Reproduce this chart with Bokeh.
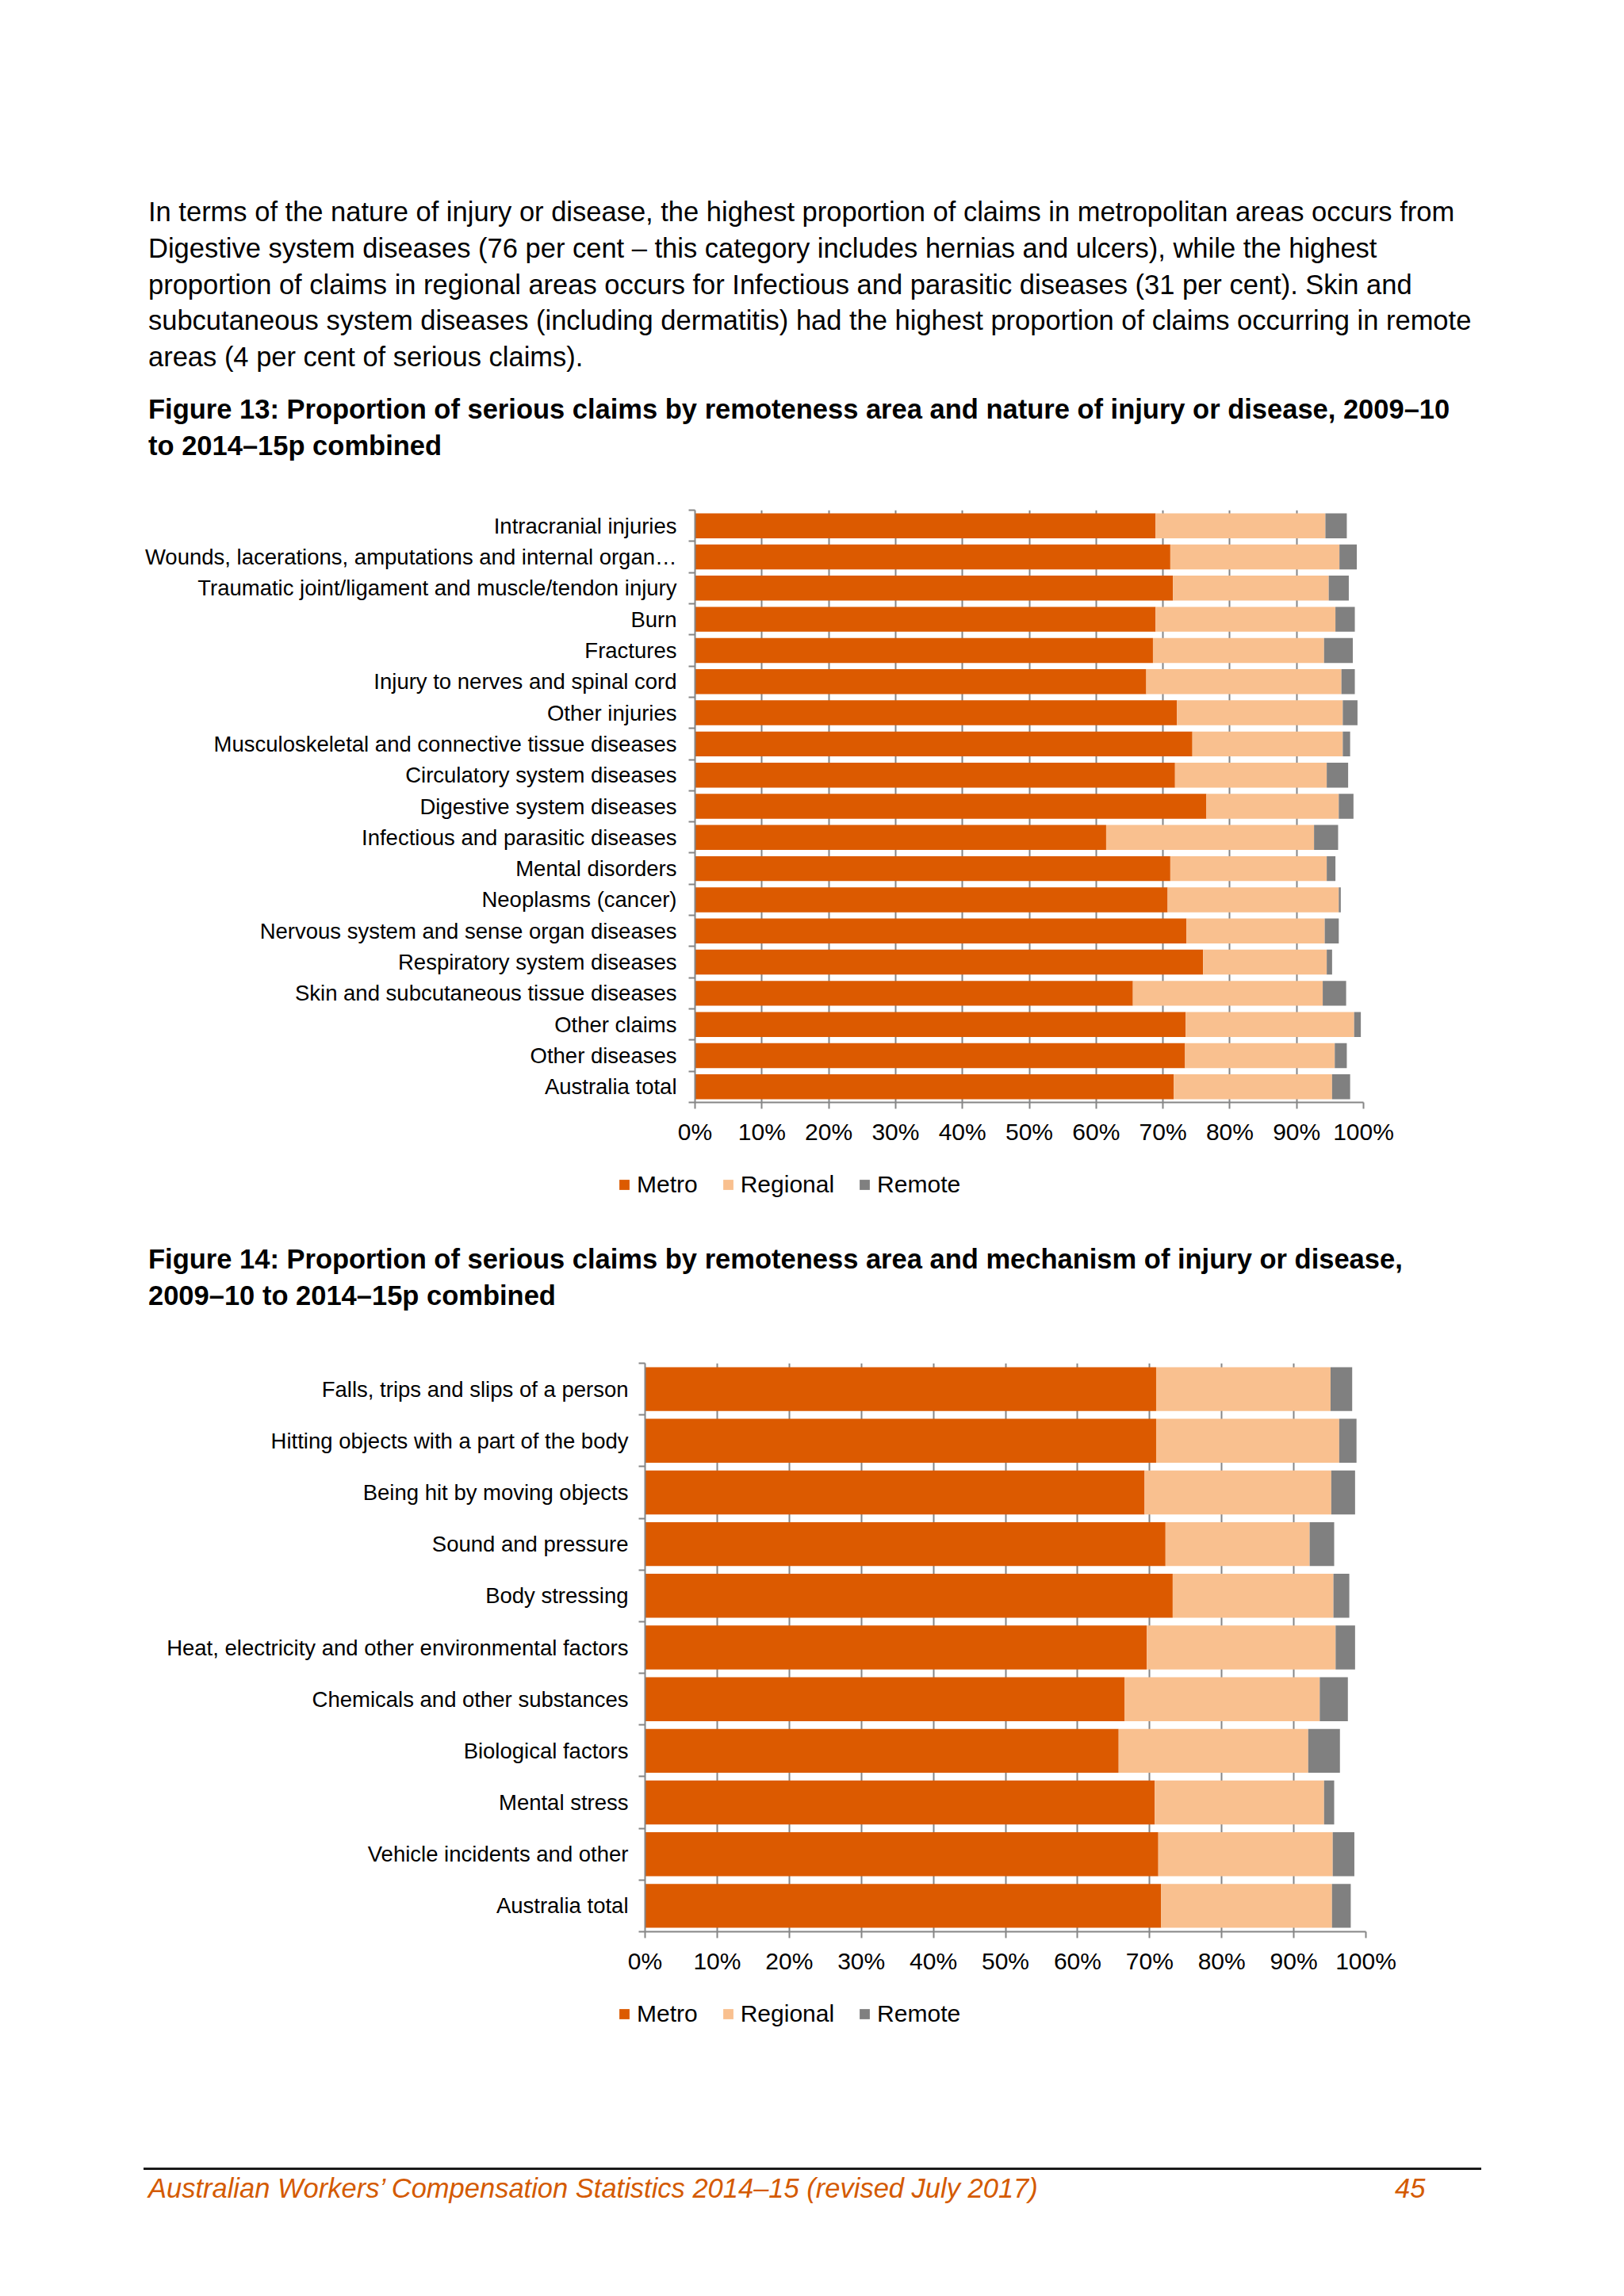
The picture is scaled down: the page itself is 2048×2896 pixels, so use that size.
from bokeh.plotting import figure
from bokeh.models import (Range1d, FixedTicker, Legend, LegendItem, Div,
                          ColumnDataSource, PrintfTickFormatter)
from bokeh.layouts import column
from bokeh.embed import file_html
from bokeh.resources import INLINE

FONT = "Liberation Sans"
METRO_C = "#DC5A00"
REG_C = "#F9C08F"
REM_C = "#808080"
AX_C = "#868686"

# ---------------- data ----------------
series_names = ["Metro", "Regional", "Remote"]
x_ticks = [0, 10, 20, 30, 40, 50, 60, 70, 80, 90, 100]

nature_categories = [
    "Intracranial injuries",
    "Wounds, lacerations, amputations and internal organ…",
    "Traumatic joint/ligament and muscle/tendon injury",
    "Burn",
    "Fractures",
    "Injury to nerves and spinal cord",
    "Other injuries",
    "Musculoskeletal and connective tissue diseases",
    "Circulatory system diseases",
    "Digestive system diseases",
    "Infectious and parasitic diseases",
    "Mental disorders",
    "Neoplasms (cancer)",
    "Nervous system and sense organ diseases",
    "Respiratory system diseases",
    "Skin and subcutaneous tissue diseases",
    "Other claims",
    "Other diseases",
    "Australia total",
]
nature_metro = [68.9, 71.1, 71.5, 68.9, 68.5, 67.5, 72.1, 74.4, 71.8, 76.5,
                61.5, 71.1, 70.7, 73.5, 76.0, 65.5, 73.4, 73.3, 71.6]
nature_regional = [25.4, 25.3, 23.3, 26.9, 25.6, 29.2, 24.8, 22.5, 22.7, 19.8,
                   31.1, 23.4, 25.6, 20.7, 18.5, 28.4, 25.2, 22.4, 23.7]
nature_remote = [3.2, 2.6, 3.0, 2.9, 4.3, 2.0, 2.2, 1.1, 3.2, 2.2,
                 3.6, 1.3, 0.3, 2.1, 0.8, 3.5, 1.0, 1.8, 2.7]

mech_categories = [
    "Falls, trips and slips of a person",
    "Hitting objects with a part of the body",
    "Being hit by moving objects",
    "Sound and pressure",
    "Body stressing",
    "Heat, electricity and other environmental factors",
    "Chemicals and other substances",
    "Biological factors",
    "Mental stress",
    "Vehicle incidents and other",
    "Australia total",
]
mech_metro = [70.9, 70.9, 69.3, 72.2, 73.2, 69.6, 66.5, 65.7, 70.7, 71.2, 71.6]
mech_regional = [24.2, 25.4, 25.9, 20.0, 22.3, 26.2, 27.1, 26.3, 23.5, 24.2, 23.7]
mech_remote = [3.0, 2.4, 3.3, 3.4, 2.2, 2.7, 3.9, 4.4, 1.4, 3.0, 2.6]

paragraph_lines = [
    "In terms of the nature of injury or disease, the highest proportion of claims in metropolitan areas occurs from",
    "Digestive system diseases (76 per cent – this category includes hernias and ulcers), while the highest",
    "proportion of claims in regional areas occurs for Infectious and parasitic diseases (31 per cent). Skin and",
    "subcutaneous system diseases (including dermatitis) had the highest proportion of claims occurring in remote",
    "areas (4 per cent of serious claims).",
]
fig13_title = ["Figure 13: Proportion of serious claims by remoteness area and nature of injury or disease, 2009–10",
               "to 2014–15p combined"]
fig14_title = ["Figure 14: Proportion of serious claims by remoteness area and mechanism of injury or disease,",
               "2009–10 to 2014–15p combined"]
footer_text = "Australian Workers’ Compensation Statistics 2014–15 (revised July 2017)"
page_number = "45"

W = 2040
COLORS = [METRO_C, REG_C, REM_C]


def make_source(metro, regional, remote):
    return ColumnDataSource(dict(y=list(range(len(metro))), Metro=metro,
                                 Regional=regional, Remote=remote))


def make_chart(cats, src, height, left, right, top, bottom, bar_h, y_standoff):
    n = len(cats)
    p = figure(width=W, height=height, x_range=Range1d(0, 100),
               y_range=Range1d(n - 0.5, -0.5), output_backend="svg",
               toolbar_location=None, min_border_left=left, min_border_right=right,
               min_border_top=top, min_border_bottom=bottom, frame_align=False)
    p.hbar_stack(series_names, y="y", height=bar_h, color=COLORS,
                 source=src, line_color=None)
    p.outline_line_color = None
    p.background_fill_color = "white"
    p.border_fill_color = "white"

    # x axis
    xa = p.xaxis[0]
    xa.ticker = FixedTicker(ticks=x_ticks)
    xa.formatter = PrintfTickFormatter(format="%d%%")
    xa.axis_line_color = AX_C
    xa.axis_line_width = 2
    xa.major_tick_line_color = AX_C
    xa.major_tick_line_width = 2
    xa.major_tick_out = 8
    xa.major_tick_in = 0
    xa.minor_tick_line_color = None
    xa.major_label_text_font = FONT
    xa.major_label_text_font_size = "30px"
    xa.major_label_text_color = "black"
    xa.major_label_standoff = 12

    # y axis
    ya = p.yaxis[0]
    ya.ticker = FixedTicker(ticks=list(range(n)), minor_ticks=[i - 0.5 for i in range(n + 1)])
    ya.major_label_overrides = {i: c for i, c in enumerate(cats)}
    ya.axis_line_color = AX_C
    ya.axis_line_width = 2
    ya.major_tick_line_color = None
    ya.major_tick_out = 0
    ya.major_tick_in = 0
    ya.minor_tick_line_color = AX_C
    ya.minor_tick_line_width = 2
    ya.minor_tick_out = 8
    ya.minor_tick_in = 0
    ya.major_label_text_font = FONT
    ya.major_label_text_font_size = "27.5px"
    ya.major_label_text_color = "black"
    ya.major_label_standoff = y_standoff

    p.xgrid.ticker = FixedTicker(ticks=x_ticks)
    p.xgrid.grid_line_color = AX_C
    p.xgrid.grid_line_width = 2
    p.ygrid.grid_line_color = None
    return p


def make_legend(src, height, loc):
    # strip below the chart holding the series key; its renderers are hidden,
    # only the legend swatches and labels are shown
    p = figure(width=W, height=height, x_range=Range1d(0, 1), y_range=Range1d(0, 1),
               output_backend="svg", toolbar_location=None, x_axis_type=None,
               y_axis_type=None, min_border=0, frame_align=False)
    rs = p.hbar_stack(series_names, y="y", height=0.8, color=COLORS, source=src,
                      line_color=None, visible=False)
    p.outline_line_color = None
    p.grid.grid_line_color = None
    legend = Legend(items=[LegendItem(label=nm, renderers=[r]) for nm, r in zip(series_names, rs)],
                    location=loc, orientation="horizontal",
                    border_line_color=None, background_fill_alpha=0,
                    padding=0, margin=0, spacing=30, label_standoff=8,
                    glyph_width=16, glyph_height=16,
                    label_text_font=FONT, label_text_font_size="30px",
                    label_text_color="black", inactive_fill_alpha=0)
    p.add_layout(legend)
    return p


src13 = make_source(nature_metro, nature_regional, nature_remote)
src14 = make_source(mech_metro, mech_regional, mech_remote)

fig13 = make_chart(nature_categories, src13, 860, 876, 321, 43, 70, 0.8, 15)
leg13 = make_legend(src13, 70, (779, 19))
fig14 = make_chart(mech_categories, src14, 830, 813, 318, 39, 74, 0.85, 13)
leg14 = make_legend(src14, 70, (779, 23))

base = "font-family:'Liberation Sans',Arial,sans-serif;color:#000;white-space:nowrap;"
para_html = (
    f'<div style="{base}padding-left:187px;">'
    f'<div style="padding-top:245px;font-size:34.5px;line-height:45.75px;">'
    + "<br>".join(paragraph_lines) +
    '</div>'
    f'<div style="margin-top:19px;font-size:34.5px;line-height:46px;font-weight:bold;">'
    + "<br>".join(fig13_title) +
    '</div></div>'
)
divA = Div(text=para_html, width=W, height=600, margin=0)

title14_html = (
    f'<div style="{base}padding-left:187px;padding-top:36px;font-size:34.5px;'
    f'line-height:45.5px;font-weight:bold;">' + "<br>".join(fig14_title) + '</div>'
)
divB = Div(text=title14_html, width=W, height=150, margin=0)

footer_html = (
    f'<div style="{base}margin-left:181px;width:1687px;margin-top:154px;border-top:3px solid #1a1a1a;">'
    f'<div style="position:relative;padding-left:6px;line-height:46px;font-size:34.5px;'
    f'font-style:italic;color:#D45A00;">' + footer_text +
    f'<span style="position:absolute;left:1578px;top:0;">{page_number}</span></div></div>'
)
divC = Div(text=footer_html, width=W, height=300, margin=0)

layout = column(divA, fig13, leg13, divB, fig14, leg14, divC, spacing=0)

open("out.html", "w").write(file_html(layout, INLINE))
